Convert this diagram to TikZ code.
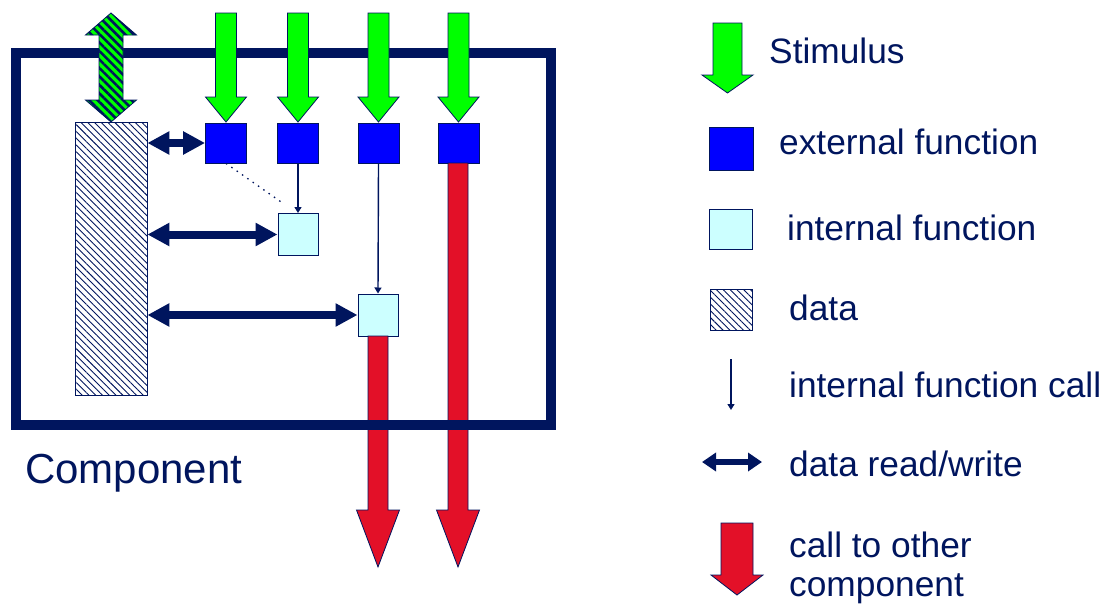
\documentclass[tikz,border=0pt]{standalone}
\usepackage{fontspec}
\setmainfont{Liberation Sans}
\usetikzlibrary{arrows.meta,patterns.meta,calc}
\definecolor{navy}{RGB}{0,21,94}
\definecolor{fblue}{RGB}{0,0,255}
\definecolor{lcyan}{RGB}{204,255,255}
\definecolor{sgreen}{RGB}{0,255,0}
\definecolor{cred}{RGB}{227,16,40}
% #1 style, #2 x, #3 top, #4 head base, #5 tip, #6 half shaft, #7 half head
\newcommand\blkdown[7]{%
  \path[#1] (#2-#6,#3) -- (#2+#6,#3) -- (#2+#6,#4) -- (#2+#7,#4) -- (#2,#5)
    -- (#2-#7,#4) -- (#2-#6,#4) -- cycle;}
\begin{document}
\begin{tikzpicture}[x=1pt,y=-1pt,
  stim/.style={fill=sgreen,draw=navy,line width=0.8pt},
  callout/.style={fill=cred,draw=navy,line width=0.8pt},
  extf/.style={draw=navy,line width=0.8pt,fill=fblue,minimum width=41pt,minimum height=40pt,inner sep=0pt},
  intf/.style={draw=navy,line width=1pt,fill=lcyan,minimum width=40pt,minimum height=42pt,inner sep=0pt},
  datastore/.style={draw=navy,line width=0.8pt,fill=white,
    postaction={pattern={Lines[angle=-45,distance=4.8pt,line width=0.9pt]},pattern color=navy}},
  rw/.style={navy,line width=8pt,{Triangle[length=22pt,width=22pt]}-{Triangle[length=22pt,width=22pt]}},
  icall/.style={navy,line width=1.4pt,-{Triangle[length=6pt,width=7pt]}},
  lbl/.style={text=navy,font=\fontsize{35.3}{42}\selectfont,anchor=base west,inner sep=0pt}]
\useasboundingbox (0,0) rectangle (1109,605);

% data and function nodes
\node[datastore,minimum width=72pt,minimum height=273pt,inner sep=0pt] (data) at (111,258.5) {};
\node[extf] (e1) at (226,143) {};
\node[extf] (e2) at (298,143) {};
\node[extf] (e3) at (378.5,143) {};
\node[extf] (e4) at (458.5,143) {};
\node[intf] (i1) at (298,234.5) {};
\node[intf] (i2) at (378,315) {};

% calls to other components
\blkdown{callout}{378}{336}{510}{567}{10}{21.5}
\blkdown{callout}{458}{163}{510}{567}{10}{21.5}

% component frame
\draw[navy,line width=9.5pt] (16,53) rectangle (551,425);
\node[text=navy,font=\fontsize{42}{48}\selectfont,anchor=base west,inner sep=0pt] (comp) at (25,483) {Component};

% stimuli
\blkdown{stim}{226}{13}{97}{122}{10.5}{20.5}
\blkdown{stim}{298}{13}{97}{122}{10.5}{20.5}
\blkdown{stim}{378.5}{13}{97}{122}{10.5}{20.5}
\blkdown{stim}{458.5}{13}{97}{122}{10.5}{20.5}

% external data access (hatched double arrow)
\path[fill=sgreen,draw=navy,line width=0.8pt,
  postaction={pattern={Lines[angle=-45,distance=6pt,line width=2.6pt]},pattern color=navy}]
  (111,13) -- (136.5,35) -- (123,35) -- (123,100) -- (136.5,100) -- (111,122)
  -- (85.5,100) -- (99,100) -- (99,35) -- (85.5,35) -- cycle;

% data read/write
\draw[rw] (e1.west -| data.east) -- (e1.west);
\draw[rw] (i1.west -| data.east) -- (i1.west);
\draw[rw] (i2.west -| data.east) -- (i2.west);

% internal function calls
\draw[icall] (e2.south) -- (i1.north);
\draw[icall] (e3.south) -- (i2.north);
\draw[navy,line width=1.3pt,dash pattern=on 1.5pt off 5pt] (e1.south) -- ($(i1.north)+(-14,-9)$);

% legend
\blkdown{stim}{727.5}{23}{75}{93}{14.5}{25.5}
\node[lbl] (lstim) at (769,63) {Stimulus};
\node[extf,minimum width=44pt,minimum height=43pt] (lext) at (731,148.5) {};
\node[lbl] (lextt) at (779,154) {external function};
\node[intf,minimum width=43pt,minimum height=40pt] (lint) at (730.5,229) {};
\node[lbl] (lintt) at (787,240) {internal function};
\node[datastore,minimum width=42pt,minimum height=41pt,inner sep=0pt] (ldata) at (731,309.5) {};
\node[lbl] (ldatat) at (789,320) {data};
\coordinate (lc1) at (731,359);
\coordinate (lc2) at (731,410);
\draw[icall] (lc1) -- (lc2);
\node[lbl] (lcallt) at (789,397) {internal function call};
\coordinate (lrw1) at (702,462);
\coordinate (lrw2) at (762,462);
\draw[navy,line width=6pt,{Triangle[length=14pt,width=18pt]}-{Triangle[length=14pt,width=18pt]}] (lrw1) -- (lrw2);
\node[lbl] (lrwt) at (789,476) {data read/write};
\blkdown{callout}{737}{523}{575}{595}{16}{26}
\node[lbl] (lothert) at (789,557) {call to other};
\node[lbl] (lothert2) at (789,596) {component};
\end{tikzpicture}
\end{document}
